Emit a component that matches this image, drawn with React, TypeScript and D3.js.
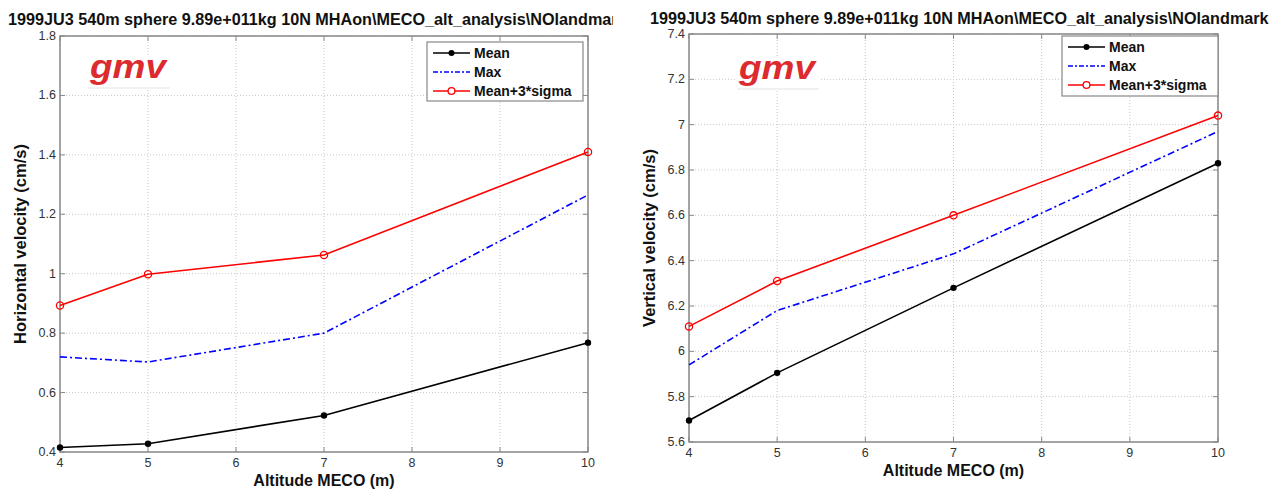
import React from "react";
import * as d3 from "d3";

const TITLE = "1999JU3 540m sphere 9.89e+011kg 10N MHAon\\MECO_alt_analysis\\NOlandmark";
const altitudes = [4, 5, 7, 10];
const xTicks = [4, 5, 6, 7, 8, 9, 10];

const hMean = [0.415, 0.428, 0.523, 0.768];
const hMax = [0.72, 0.703, 0.8, 1.265];
const hSigma = [0.893, 0.998, 1.063, 1.41];
const hTicks = [0.4, 0.6, 0.8, 1, 1.2, 1.4, 1.6, 1.8];

const vMean = [5.695, 5.905, 6.28, 6.83];
const vMax = [5.94, 6.18, 6.43, 6.97];
const vSigma = [6.11, 6.31, 6.6, 7.04];
const vTicks = [5.6, 5.8, 6, 6.2, 6.4, 6.6, 6.8, 7, 7.2, 7.4];

const legendNames = ["Mean", "Max", "Mean+3*sigma"];

const FONT = "'Liberation Sans', Arial, Helvetica, sans-serif";

type PanelProps = {
  id: string;
  box: { x0: number; x1: number; y0: number; y1: number };
  yDomain: [number, number];
  yTicks: number[];
  mean: number[];
  max: number[];
  sigma: number[];
  ylabel: string;
  legend: { x: number; y: number; w: number; h: number };
  logo: { x: number; y: number };
  title: { x: number; y: number; clip: number };
};

function Panel(p: PanelProps) {
  const { x0, x1, y0, y1 } = p.box;
  const xs = d3.scaleLinear().domain([4, 10]).range([x0, x1]);
  const ys = d3.scaleLinear().domain(p.yDomain).range([y1, y0]);
  const line = (vals: number[]) =>
    d3.line<number>().x((_, i) => xs(altitudes[i])).y((v) => ys(v))(vals) || "";
  const fmt = (v: number) => (Math.abs(v - Math.round(v)) < 1e-9 ? String(Math.round(v)) : v.toFixed(1));
  const tl = 5;
  const lg = p.legend;
  const rowY = [lg.y + 11, lg.y + 30, lg.y + 49];
  const lx0 = lg.x + 6;
  const lx1 = lg.x + 43;
  const lmid = (lx0 + lx1) / 2;
  return (
    <g>
      <defs>
        <clipPath id={p.id + "-clip"}>
          <rect x={p.title.x - 10} y={0} width={p.title.clip - p.title.x + 10} height={40} />
        </clipPath>
      </defs>
      <text
        x={p.title.x}
        y={p.title.y}
        fontFamily={FONT}
        fontWeight="bold"
        fontSize={16.2}
        fill="#111"
        clipPath={`url(#${p.id}-clip)`}
      >
        {TITLE}
      </text>
      <rect x={x0} y={y0} width={x1 - x0} height={y1 - y0} fill="#fff" />
      {/* grid */}
      {xTicks.map((t) => (
        <line key={"gx" + t} x1={xs(t)} x2={xs(t)} y1={y0} y2={y1} stroke="#c8c8c8" strokeWidth={1} strokeDasharray="1,2" />
      ))}
      {p.yTicks.map((t) => (
        <line key={"gy" + t} x1={x0} x2={x1} y1={ys(t)} y2={ys(t)} stroke="#c8c8c8" strokeWidth={1} strokeDasharray="1,2" />
      ))}
      {/* ticks */}
      {xTicks.map((t) => (
        <g key={"tx" + t}>
          <line x1={xs(t)} x2={xs(t)} y1={y1} y2={y1 - tl} stroke="#888" />
          <line x1={xs(t)} x2={xs(t)} y1={y0} y2={y0 + tl} stroke="#888" />
          <text x={xs(t)} y={y1 + 15} textAnchor="middle" fontFamily={FONT} fontSize={12.5} fill="#333">
            {fmt(t)}
          </text>
        </g>
      ))}
      {p.yTicks.map((t) => (
        <g key={"ty" + t}>
          <line x1={x0} x2={x0 + tl} y1={ys(t)} y2={ys(t)} stroke="#888" />
          <line x1={x1} x2={x1 - tl} y1={ys(t)} y2={ys(t)} stroke="#888" />
          <text x={x0 - 4} y={ys(t) + 4} textAnchor="end" fontFamily={FONT} fontSize={12.5} fill="#333">
            {fmt(t)}
          </text>
        </g>
      ))}
      <rect x={x0} y={y0} width={x1 - x0} height={y1 - y0} fill="none" stroke="#888" strokeWidth={1.5} />
      {/* logo */}
      <g>
        <rect x={p.logo.x} y={p.logo.y} width={82} height={33} fill="#fff" />
        <line x1={p.logo.x} x2={p.logo.x + 82} y1={p.logo.y + 33} y2={p.logo.y + 33} stroke="#e2e2e2" />
        <text
          x={p.logo.x + 2}
          y={p.logo.y + 23}
          fontFamily={FONT}
          fontStyle="italic"
          fontWeight="bold"
          fontSize={34}
          fill="#dc2a2e"
          textLength={76}
          lengthAdjust="spacingAndGlyphs"
        >
          gmv
        </text>
      </g>
      {/* series */}
      <path d={line(p.max)} fill="none" stroke="#0000ff" strokeWidth={1.6} strokeDasharray="7,3,2,3" />
      <path d={line(p.mean)} fill="none" stroke="#000" strokeWidth={1.6} />
      {p.mean.map((v, i) => (
        <circle key={"m" + i} cx={xs(altitudes[i])} cy={ys(v)} r={3.2} fill="#000" />
      ))}
      <path d={line(p.sigma)} fill="none" stroke="#ff0000" strokeWidth={1.6} />
      {p.sigma.map((v, i) => (
        <circle key={"s" + i} cx={xs(altitudes[i])} cy={ys(v)} r={3.6} fill="none" stroke="#ff0000" strokeWidth={1.3} />
      ))}
      {/* legend */}
      <rect x={lg.x} y={lg.y} width={lg.w} height={lg.h} fill="#fff" stroke="#888" strokeWidth={1.2} />
      <line x1={lx0} x2={lx1} y1={rowY[0]} y2={rowY[0]} stroke="#000" strokeWidth={1.6} />
      <circle cx={lmid} cy={rowY[0]} r={3} fill="#000" />
      <line x1={lx0} x2={lx1} y1={rowY[1]} y2={rowY[1]} stroke="#0000ff" strokeWidth={1.4} strokeDasharray="5,2,2,2" />
      <line x1={lx0} x2={lx1} y1={rowY[2]} y2={rowY[2]} stroke="#ff0000" strokeWidth={1.6} />
      <circle cx={lmid} cy={rowY[2]} r={3.4} fill="#fff" stroke="#ff0000" strokeWidth={1.3} />
      {legendNames.map((n, i) => (
        <text key={n} x={lx1 + 4} y={rowY[i] + 5} fontFamily={FONT} fontWeight="bold" fontSize={14} fill="#111">
          {n}
        </text>
      ))}
      {/* axis labels */}
      <text x={(x0 + x1) / 2} y={y1 + 34} textAnchor="middle" fontFamily={FONT} fontWeight="bold" fontSize={16} fill="#111">
        Altitude MECO (m)
      </text>
      <text
        transform={`translate(${x0 - 34},${(y0 + y1) / 2}) rotate(-90)`}
        textAnchor="middle"
        fontFamily={FONT}
        fontWeight="bold"
        fontSize={16.5}
        fill="#111"
      >
        {p.ylabel}
      </text>
    </g>
  );
}

export default function App() {
  return (
    <svg width={1274} height={491} style={{ position: "absolute", left: 0, top: 0, background: "#fff" }}>
      <rect width={1274} height={491} fill="#fff" />
      <Panel
        id="h"
        box={{ x0: 60, x1: 588, y0: 36, y1: 452 }}
        yDomain={[0.4, 1.8]}
        yTicks={hTicks}
        mean={hMean}
        max={hMax}
        sigma={hSigma}
        ylabel="Horizontal velocity (cm/s)"
        legend={{ x: 427, y: 42, w: 156, h: 59 }}
        logo={{ x: 88, y: 55 }}
        title={{ x: 8, y: 25, clip: 613 }}
      />
      <Panel
        id="v"
        box={{ x0: 689, x1: 1218, y0: 34, y1: 442 }}
        yDomain={[5.6, 7.4]}
        yTicks={vTicks}
        mean={vMean}
        max={vMax}
        sigma={vSigma}
        ylabel="Vertical velocity (cm/s)"
        legend={{ x: 1062, y: 36, w: 156, h: 60 }}
        logo={{ x: 737, y: 56 }}
        title={{ x: 650, y: 24, clip: 1274 }}
      />
    </svg>
  );
}
